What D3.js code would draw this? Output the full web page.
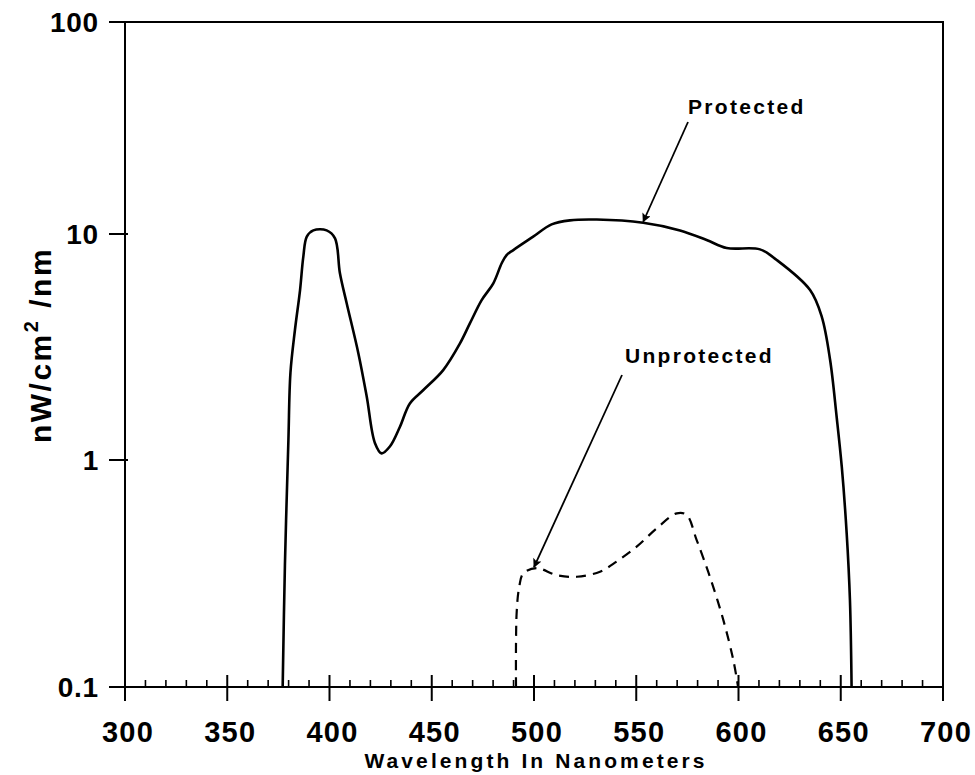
<!DOCTYPE html>
<html>
<head>
<meta charset="utf-8">
<script src="https://cdn.jsdelivr.net/npm/d3@7"></script>
<style>
  html, body { margin: 0; padding: 0; background: #fff; }
  svg { display: block; }
  text { font-family: "Liberation Sans", Arial, Helvetica, sans-serif; font-weight: bold; fill: #000; }
</style>
</head>
<body>
<svg id="chart" width="975" height="775"></svg>
<script>
// Spectral irradiance (nW/cm^2/nm) versus wavelength (nm)
const protectedNm  = [377.1, 378.2, 379.9, 380.9, 383.1, 385.6, 387.2, 388.9, 392.1, 398.6, 402.7, 405.1, 408.4,
                      414.1, 418.2, 422.2, 425.5, 429.6, 434.4, 439.3, 445.9, 455.6, 463.8, 468.7, 474.4, 480.1, 484.2,
                      486.6, 489.9, 499.6, 508.6, 517.6, 530.7, 553.4, 571.4, 584.4, 594.2, 610.5, 618.7, 635.0, 640.7,
                      644.8, 648.0, 650.5, 652.9, 654.5, 655.3];
const protectedVal = [0.1, 0.344, 1.22, 2.43, 3.76, 5.65, 7.94, 9.73, 10.4, 10.4, 9.57, 6.70, 4.94,
                      2.97, 1.91, 1.19, 1.07, 1.15, 1.40, 1.78, 2.04, 2.50, 3.28, 4.03, 5.10, 6.05, 7.42,
                      8.07, 8.49, 9.73, 11.1, 11.6, 11.7, 11.3, 10.4, 9.41, 8.67, 8.55, 7.67, 5.65, 4.31,
                      2.77, 1.55, 0.934, 0.475, 0.241, 0.1];

const unprotectedNm  = [491.2, 491.5, 492.8, 494.8, 501.3, 511.1, 520.9, 532.3, 540.4, 550.2, 560.0, 569.8,
                        574.6, 579.5, 586.0, 592.6, 597.5, 599.8];
const unprotectedVal = [0.1, 0.211, 0.277, 0.317, 0.334, 0.311, 0.306, 0.322, 0.357, 0.415, 0.50, 0.582,
                        0.573, 0.445, 0.306, 0.197, 0.131, 0.1];

const xTicks = [300, 350, 400, 450, 500, 550, 600, 650, 700];
const xMinorTicks = d3.range(300, 701, 10);
const yTicks = [0.1, 1, 10, 100];
const yTickLabels = ["0.1", "1", "10", "100"];

const xTitle = "Wavelength In Nanometers";
const seriesLabels = ["Protected", "Unprotected"];

const svg = d3.select("#chart");
const plotLeft = 125, plotRight = 943, plotTop = 22, plotBottom = 687;

const x = d3.scaleLinear().domain([300, 700]).range([plotLeft, plotRight]);
// log axis, one piecewise segment per decade
const y = d3.scaleLog().domain([0.1, 1, 10, 100]).range([plotBottom, 460, 234, plotTop]);

const defs = svg.append("defs");
defs.append("clipPath").attr("id", "plot-clip")
  .append("rect")
  .attr("x", plotLeft).attr("y", plotTop)
  .attr("width", plotRight - plotLeft).attr("height", plotBottom - plotTop);

// arrowhead marker
defs.append("marker")
  .attr("id", "arrow")
  .attr("viewBox", "0 0 10 10")
  .attr("refX", 9).attr("refY", 5)
  .attr("markerWidth", 12).attr("markerHeight", 9)
  .attr("markerUnits", "userSpaceOnUse")
  .attr("orient", "auto")
  .append("path").attr("d", "M0,0 L10,5 L0,10 L2,5 Z").attr("fill", "#000");

// frame
svg.append("rect")
  .attr("x", plotLeft).attr("y", plotTop)
  .attr("width", plotRight - plotLeft).attr("height", plotBottom - plotTop)
  .attr("fill", "none").attr("stroke", "#000").attr("stroke-width", 2);

// x axis: major ticks cross the axis, minor ticks point up
const xAxisG = svg.append("g");
xAxisG.selectAll("line.minor").data(xMinorTicks.filter(d => d % 50 !== 0)).join("line")
  .attr("class", "minor")
  .attr("x1", d => x(d)).attr("x2", d => x(d))
  .attr("y1", plotBottom).attr("y2", plotBottom - 7)
  .attr("stroke", "#000").attr("stroke-width", 1.6);
xAxisG.selectAll("line.major").data(xTicks).join("line")
  .attr("class", "major")
  .attr("x1", d => x(d)).attr("x2", d => x(d))
  .attr("y1", plotBottom - 12).attr("y2", plotBottom + 14)
  .attr("stroke", "#000").attr("stroke-width", 2);
xAxisG.selectAll("text").data(xTicks).join("text")
  .attr("x", d => x(d) + 3).attr("y", 742)
  .attr("text-anchor", "middle")
  .attr("font-size", 29)
  .attr("letter-spacing", 1.2)
  .text(d => d);

svg.append("text")
  .attr("x", (plotLeft + plotRight) / 2 + 2).attr("y", 768)
  .attr("text-anchor", "middle")
  .attr("font-size", 21)
  .attr("letter-spacing", 3.1)
  .text(xTitle);

// y axis ticks and labels
const yAxisG = svg.append("g");
yAxisG.selectAll("line").data(yTicks).join("line")
  .attr("x1", plotLeft - 16).attr("x2", plotLeft + 3)
  .attr("y1", d => y(d)).attr("y2", d => y(d))
  .attr("stroke", "#000").attr("stroke-width", 2);
yAxisG.selectAll("text").data(yTicks).join("text")
  .attr("x", 99).attr("y", d => y(d) + 10)
  .attr("text-anchor", "end")
  .attr("font-size", 28)
  .attr("letter-spacing", 0.8)
  .text((d, i) => yTickLabels[i]);

// y title with superscript
const yTitle = svg.append("text")
  .attr("transform", "translate(51,345) rotate(-90)")
  .attr("text-anchor", "middle")
  .attr("font-size", 30)
  .attr("letter-spacing", 2.5);
yTitle.append("tspan").text("nW/cm");
yTitle.append("tspan").attr("dy", -13).attr("font-size", 20).text("2");
yTitle.append("tspan").attr("dy", 13).text(" /nm");

// curves
const line = d3.line().x(d => x(d[0])).y(d => y(d[1])).curve(d3.curveCatmullRom.alpha(0.5));
const curves = svg.append("g").attr("clip-path", "url(#plot-clip)");

curves.append("path")
  .datum(protectedNm.map((d, i) => [d, protectedVal[i]]))
  .attr("d", line)
  .attr("fill", "none").attr("stroke", "#000").attr("stroke-width", 2.6)
  .attr("stroke-linejoin", "round");

curves.append("path")
  .datum(unprotectedNm.map((d, i) => [d, unprotectedVal[i]]))
  .attr("d", line)
  .attr("fill", "none").attr("stroke", "#000").attr("stroke-width", 2.2)
  .attr("stroke-dasharray", "10,7");

// annotations
const notes = [
  { label: seriesLabels[0], tx: 688, ty: 114, ax: 688, ay: 122, nm: 553.4, val: 11.3 },
  { label: seriesLabels[1], tx: 625, ty: 363, ax: 622, ay: 375, nm: 500.0, val: 0.334 }
];
notes.forEach(n => {
  svg.append("text")
    .attr("x", n.tx).attr("y", n.ty)
    .attr("font-size", 21)
    .attr("letter-spacing", 2.3)
    .text(n.label);
  svg.append("line")
    .attr("x1", n.ax).attr("y1", n.ay)
    .attr("x2", x(n.nm)).attr("y2", y(n.val) - 1)
    .attr("stroke", "#000").attr("stroke-width", 1.8)
    .attr("marker-end", "url(#arrow)");
});
</script>
</body>
</html>
